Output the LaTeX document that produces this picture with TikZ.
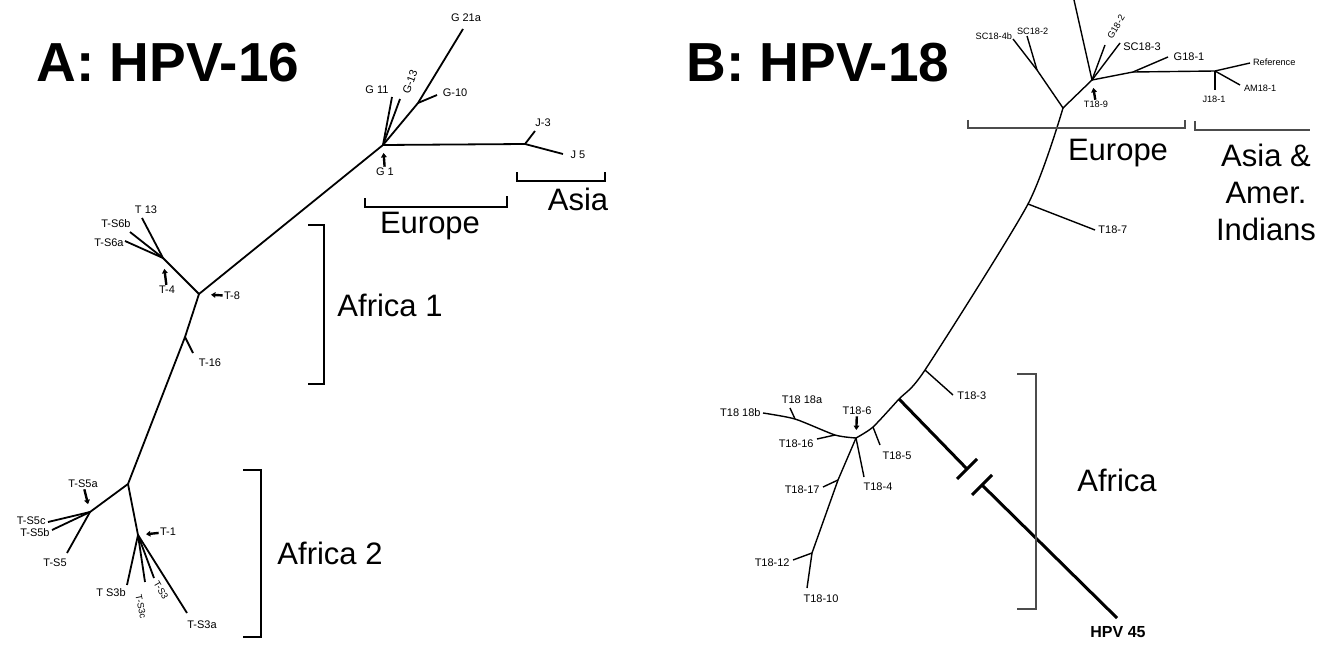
\documentclass[tikz,border=0pt]{standalone}
\usepackage{fontspec}
\setmainfont{Liberation Sans}
\usetikzlibrary{arrows.meta}

\tikzset{
  branch/.style={line width=0.9pt},
  thinbranch/.style={line width=0.7pt},
  outgroup/.style={line width=1.5pt},
  taxon/.style={font=\fontsize{5.5}{6}\selectfont, inner sep=0.5pt},
  smalltaxon/.style={font=\fontsize{4.6}{5}\selectfont, inner sep=0.3pt},
  pointer/.style={line width=1.2pt, -{Triangle[length=2.2pt,width=2.8pt]}},
  clade/.style={line width=1pt},
  faintclade/.style={line width=0.6pt, black!70},
  region/.style={font=\fontsize{15.5}{18.5}\selectfont, align=center},
  panel/.style={font=\fontsize{27.5}{30}\selectfont\bfseries}
}

\begin{document}
\begin{tikzpicture}[x=0.5pt,y=-0.5pt]
\useasboundingbox (0,0) rectangle (1327,647);

% Titles
\node[panel] (titleA) at (168,63) {A: HPV-16};
\node[panel] (titleB) at (818,63) {B: HPV-18};

% ---- Panel A: HPV-16 tree ----
\coordinate (g1) at (383,145);
\coordinate (g10j) at (418,103);
\coordinate (g21a) at (463,29);
\coordinate (g10) at (437,95);
\coordinate (g11) at (392,97);
\coordinate (g13) at (400,99);
\coordinate (jj) at (525,144);
\coordinate (j3) at (535,131);
\coordinate (j5) at (563,154);
\coordinate (t8) at (199,294);
\coordinate (t4) at (163,258);
\coordinate (t13) at (142,218);
\coordinate (ts6b) at (130,232);
\coordinate (ts6a) at (125,241);
\coordinate (t16j) at (185,337);
\coordinate (t16) at (193,353);
\coordinate (a2) at (128,484);
\coordinate (ts5a) at (90,512);
\coordinate (ts5c) at (48,522);
\coordinate (ts5b) at (52,530);
\coordinate (ts5) at (67,553);
\coordinate (t1) at (138,535);
\coordinate (ts3b) at (127,585);
\coordinate (ts3c) at (145,582);
\coordinate (ts3) at (154,578);
\coordinate (ts3a) at (187,613);

\draw[branch] (g1) -- (g10j) -- (g21a);
\draw[branch] (g10j) -- (g10);
\draw[branch] (g1) -- (g11);
\draw[branch] (g1) -- (g13);
\draw[branch] (g1) -- (jj) -- (j5);
\draw[branch] (jj) -- (j3);
\draw[branch] (g1) -- (t8) -- (t4) -- (t13);
\draw[branch] (t4) -- (ts6b);
\draw[branch] (t4) -- (ts6a);
\draw[branch] (t8) -- (t16j) -- (a2) -- (ts5a) -- (ts5c);
\draw[branch] (t16j) -- (t16);
\draw[branch] (ts5a) -- (ts5b);
\draw[branch] (ts5a) -- (ts5);
\draw[branch] (a2) -- (t1) -- (ts3b);
\draw[branch] (t1) -- (ts3c);
\draw[branch] (t1) -- (ts3);
\draw[branch] (t1) -- (ts3a);

% labels A
\node[taxon] (lg21a) at (466,18) {G 21a};
\node[taxon] (lg10) at (455,93) {G-10};
\node[taxon] (lg11) at (377,90) {G 11};
\node[taxon, rotate=70] (lg13) at (410,82) {G-13};
\node[taxon] (lj3) at (543,123) {J-3};
\node[taxon] (lj5) at (578,155) {J 5};
\node[taxon] (lg1) at (385,172) {G 1};
\node[taxon] (lt13) at (146,210) {T 13};
\node[taxon, anchor=east] (lts6b) at (132,224) {T-S6b};
\node[taxon, anchor=east] (lts6a) at (125,243) {T-S6a};
\node[taxon] (lt4) at (167,290) {T-4};
\node[taxon] (lt8) at (232,296) {T-8};
\node[taxon] (lt16) at (210,363) {T-16};
\node[taxon] (lts5a) at (83,484) {T-S5a};
\node[taxon, anchor=east] (lts5c) at (47,521) {T-S5c};
\node[taxon, anchor=east] (lts5b) at (51,533) {T-S5b};
\node[taxon] (lts5) at (55,563) {T-S5};
\node[taxon] (lt1) at (168,532) {T-1};
\node[taxon] (lts3b) at (111,593) {T S3b};
\node[smalltaxon, rotate=-78] (lts3c) at (141,607) {T-S3c};
\node[smalltaxon, rotate=-60] (lts3) at (161,590) {T-S3};
\node[taxon] (lts3a) at (202,625) {T-S3a};

% pointers A
\draw[pointer, shorten >=4pt] (lg1) -- (g1);
\draw[pointer, shorten >=5.5pt] (lt4) -- (t4);
\draw[pointer, shorten >=6pt] (lt8) -- (t8);
\draw[pointer, shorten >=4pt] (lts5a) -- (ts5a);
\draw[pointer, shorten >=4pt] (lt1) -- (t1);

% brackets A
\draw[clade] (365,198) -- (365,207) -- (507,207) -- (507,196);
\node[region] (europeA) at (430,226) {Europe};
\draw[clade] (517,172) -- (517,181) -- (605,181) -- (605,172);
\node[region] (asiaA) at (578,199) {Asia};
\draw[clade] (308,225) -- (324,225) -- (324,384) -- (308,384);
\node[region] (africa1) at (390,305) {Africa 1};
\draw[clade] (243,470) -- (261,470) -- (261,637) -- (243,637);
\node[region] (africa2) at (330,553) {Africa 2};

% ---- Panel B: HPV-18 tree ----
\coordinate (b9) at (1092,80);
\coordinate (broot) at (1063,108);
\coordinate (scj) at (1037,70);
\coordinate (sc4b) at (1013,39);
\coordinate (sc2) at (1027,36);
\coordinate (btop) at (1074,0);
\coordinate (g182) at (1105,45);
\coordinate (sc3) at (1120,43);
\coordinate (g181j) at (1133,72);
\coordinate (g181) at (1168,57);
\coordinate (amj) at (1215,71);
\coordinate (ref) at (1250,63);
\coordinate (am) at (1240,85);
\coordinate (j18) at (1215,90);
\coordinate (t7j) at (1028,204);
\coordinate (t7) at (1095,230);
\coordinate (t3j) at (925,370);
\coordinate (t3) at (953,395);
\coordinate (hj) at (899,399);
\coordinate (t5j) at (873,427);
\coordinate (t5) at (880,445);
\coordinate (t6) at (856,438);
\coordinate (t4b) at (864,477);
\coordinate (t16j) at (835,435);
\coordinate (t16b) at (817,439);
\coordinate (t18aj) at (795,419);
\coordinate (t18a) at (790,408);
\coordinate (t18b) at (763,413);
\coordinate (t17j) at (838,480);
\coordinate (t17) at (823,487);
\coordinate (t12j) at (812,553);
\coordinate (t12) at (793,560);
\coordinate (t10) at (807,588);
\coordinate (cut1) at (967,469);
\coordinate (cut2) at (982,485);
\coordinate (hpv) at (1117,618);

\draw[thinbranch] (btop) -- (b9) -- (broot) -- (scj) -- (sc4b);
\draw[thinbranch] (scj) -- (sc2);
\draw[thinbranch] (b9) -- (g182);
\draw[thinbranch] (b9) -- (sc3);
\draw[thinbranch] (b9) -- (g181j) -- (amj) -- (ref);
\draw[thinbranch] (g181j) -- (g181);
\draw[thinbranch] (amj) -- (am);
\draw[thinbranch] (amj) -- (j18);
\draw[thinbranch] plot[smooth, tension=0.4] coordinates {(broot) (t7j) (t3j) (hj) (t5j) (t6)};
\draw[thinbranch] (t7j) -- (t7);
\draw[thinbranch] (t3j) -- (t3);
\draw[thinbranch] (t5j) -- (t5);
\draw[thinbranch] (t6) -- (t4b);
\draw[thinbranch] plot[smooth, tension=0.4] coordinates {(t6) (t16j) (t18aj) (t18b)};
\draw[thinbranch] (t16j) -- (t16b);
\draw[thinbranch] (t18aj) -- (t18a);
\draw[thinbranch] (t6) -- (t17j) -- (t12j) -- (t10);
\draw[thinbranch] (t17j) -- (t17);
\draw[thinbranch] (t12j) -- (t12);

% outgroup with break
\draw[outgroup] (hj) -- (cut1);
\draw[outgroup] (cut2) -- (hpv);
\draw[outgroup] (cut1) ++(-10,10) -- ++(20,-20);
\draw[outgroup] (cut2) ++(-10,10) -- ++(20,-20);

% labels B
\node[smalltaxon, anchor=east] (lsc4b) at (1013,36) {SC18-4b};
\node[smalltaxon, anchor=west] (lsc2) at (1016,31) {SC18-2};
\node[smalltaxon, rotate=60] (lg182) at (1116,27) {G18-2};
\node[taxon] (lsc3) at (1142,47) {SC18-3};
\node[taxon] (lg181) at (1189,57) {G18-1};
\node[smalltaxon, anchor=west] (lref) at (1252,62) {Reference};
\node[smalltaxon, anchor=west] (lam) at (1243,88) {AM18-1};
\node[smalltaxon] (lj18) at (1214,99) {J18-1};
\node[smalltaxon] (lt9) at (1096,104) {T18-9};
\node[taxon, anchor=west] (lt7) at (1097,230) {T18-7};
\node[taxon, anchor=west] (lt3) at (956,396) {T18-3};
\node[taxon] (lt5) at (897,456) {T18-5};
\node[taxon] (lt4b) at (878,487) {T18-4};
\node[taxon] (lt6) at (857,411) {T18-6};
\node[taxon, anchor=east] (lt18b) at (762,413) {T18 18b};
\node[taxon] (lt18a) at (802,400) {T18 18a};
\node[taxon, anchor=east] (lt16) at (815,444) {T18-16};
\node[taxon, anchor=east] (lt17) at (821,490) {T18-17};
\node[taxon, anchor=east] (lt12) at (791,563) {T18-12};
\node[taxon] (lt10) at (821,599) {T18-10};
\node[font=\fontsize{8}{9}\selectfont\bfseries] (lhpv) at (1118,632) {HPV 45};

% pointers B
\draw[pointer, shorten >=4pt] (lt9) -- (b9);
\draw[pointer, shorten >=4pt] (lt6) -- (t6);

% brackets B
\draw[faintclade] (968,120) -- (968,128) -- (1185,128) -- (1185,120);
\node[region] (europeB) at (1118,153) {Europe};
\draw[faintclade] (1195,121) -- (1195,130) -- (1310,130);
\node[region] (asiaB) at (1266,192) {Asia \&\\Amer.\\Indians};
\draw[faintclade] (1017,374) -- (1036,374) -- (1036,609) -- (1017,609);
\node[region] (africaB) at (1117,480) {Africa};
\end{tikzpicture}
\end{document}
